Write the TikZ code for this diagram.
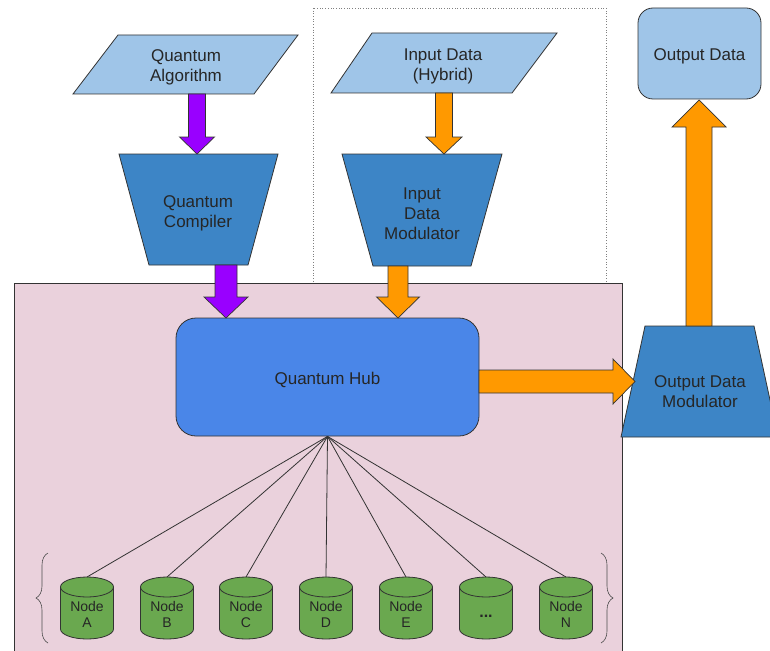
\documentclass[tikz,border=0pt]{standalone}
\usepackage{fontspec}
\setmainfont{Liberation Sans}
\usetikzlibrary{calc,decorations.pathreplacing}
\definecolor{pinkbg}{HTML}{EAD1DC}
\definecolor{lblue}{HTML}{9FC5E8}
\definecolor{tblue}{HTML}{3D85C6}
\definecolor{hblue}{HTML}{4A86E8}
\definecolor{cgreen}{HTML}{6AA84F}
\definecolor{apurple}{HTML}{9900FF}
\definecolor{aorange}{HTML}{FF9900}
\definecolor{edge}{HTML}{333333}
\newcommand\blkarrow[6]{%
  \coordinate (tmpH) at ($(#3)!#6!(#2)$);
  \draw[#1] ($(#2)!#4!90:(#3)$) -- ($(tmpH)!#4!90:(#3)$) -- ($(tmpH)!#5!90:(#3)$) -- (#3)
    -- ($(tmpH)!#5!-90:(#3)$) -- ($(tmpH)!#4!-90:(#3)$) -- ($(#2)!#4!-90:(#3)$) -- cycle;
}
\tikzset{
  shapeline/.style={draw=edge, line width=0.8pt},
  bigtext/.style={align=center, text=black!85, font=\fontsize{17}{20}\selectfont, inner sep=0pt},
  lowered/.style={yshift=-2.5pt},
  cyltext/.style={align=center, text=black!85, font=\fontsize{14}{16.5}\selectfont, inner sep=0pt},
  cylbox/.style={minimum width=53pt, minimum height=62pt, inner sep=0pt, outer sep=0pt},
  purplearrow/.style={fill=apurple, draw=edge, line width=0.7pt, line join=miter},
  orangearrow/.style={fill=aorange, draw=edge, line width=0.7pt, line join=miter},
  spoke/.style={draw=edge, line width=0.8pt},
  bracestyle/.style={draw=black!70, line width=0.6pt, decorate, decoration={brace, amplitude=12pt}}
}
\begin{document}
\begin{tikzpicture}[x=1pt, y=-1pt]
\useasboundingbox (0,0) rectangle (770,650);
% dotted group box and pink hub area
\draw[dotted, draw=black!50, line width=0.7pt] (313,8) rectangle (606,283);
\draw[fill=pinkbg, draw=edge, line width=0.8pt] (14,283) rectangle (622,670);

% Quantum Algorithm (parallelogram)
\path[shapeline, fill=lblue] (118,35) -- (298,35) -- (254,94) -- (73,94) -- cycle;
\node[bigtext, lowered] (qa) at (186,65) {Quantum\\Algorithm};
% Quantum Compiler (trapezoid)
\path[shapeline, fill=tblue] (119,154) -- (278,154) -- (248,265) -- (149,265) -- cycle;
\node[bigtext, lowered] (qc) at (198,211) {Quantum\\Compiler};
% Input Data (parallelogram)
\path[shapeline, fill=lblue] (372,33) -- (557,33) -- (512,93) -- (331,93) -- cycle;
\node[bigtext, lowered] (id) at (443,64) {Input Data\\(Hybrid)};
% Input Data Modulator
\path[shapeline, fill=tblue] (342,154) -- (502,154) -- (471,266) -- (373,266) -- cycle;
\node[bigtext, lowered] (idm) at (422,211) {Input\\Data\\Modulator};
% Output Data
\node[shapeline, fill=lblue, rounded corners=15pt, minimum width=123pt, minimum height=91pt, bigtext] (od) at (699.5,53.5) {};
\node[bigtext, lowered] (odt) at (od.center) {Output Data};
% Output Data Modulator
\path[shapeline, fill=tblue] (645,326) -- (754,326) -- (778,437) -- (621,437) -- cycle;
% Quantum Hub
\node[shapeline, fill=hblue, rounded corners=20pt, minimum width=303pt, minimum height=118pt, bigtext] (hub) at (327.5,377) {};
\node[bigtext, lowered] (hubt) at (hub.center) {Quantum Hub};

% connection points
\coordinate (qaS) at (197,94);
\coordinate (qcN) at (197,154);
\coordinate (qcS) at (226,265);
\coordinate (hubP) at (226,318);
\coordinate (idS) at (444,93);
\coordinate (idmN) at (444,154);
\coordinate (idmS) at (398,266);
\coordinate (hubO) at (398,318);
\coordinate (hubE) at (479,381.5);
\coordinate (odmW) at (635,381.5);
\coordinate (odmN) at (699,326);
\coordinate (odS) at (699,100);

% block arrows
\blkarrow{purplearrow}{qaS}{qcN}{8.5pt}{17.5pt}{17pt}
\blkarrow{purplearrow}{qcS}{hubP}{11pt}{22pt}{21pt}
\blkarrow{orangearrow}{idS}{idmN}{8.5pt}{18pt}{17pt}
\blkarrow{orangearrow}{idmS}{hubO}{10pt}{21.5pt}{21pt}
\blkarrow{orangearrow}{hubE}{odmW}{11.5pt}{22.5pt}{22pt}
\blkarrow{orangearrow}{odmN}{odS}{13pt}{27pt}{27pt}

\node[bigtext, lowered] (odm) at (700,389) {Output Data\\Modulator};

% storage nodes (cylinders)
\foreach \n/\x in {A/87,B/167,C/246,D/326,E/406,X/486,N/566}{
  \node[cylbox] (n\n) at (\x,608) {};
  \path[shapeline, fill=cgreen] ([yshift=-10pt]n\n.north west) -- ([yshift=10pt]n\n.south west)
    arc[start angle=180, end angle=360, x radius=26.5pt, y radius=10pt]
    -- ([yshift=-10pt]n\n.north east)
    arc[start angle=0, end angle=180, x radius=26.5pt, y radius=10pt] -- cycle;
  \draw[shapeline] ([yshift=-10pt]n\n.north west) arc[start angle=180, end angle=360, x radius=26.5pt, y radius=10pt];
  \draw[spoke] (hub.south) -- (n\n.north);
}
\foreach \n/\t in {A/A,B/B,C/C,D/D,E/E,N/N}{
  \node[cyltext] at ([yshift=-6.5pt]n\n.center) {Node\\\t};
}
\node[cyltext, font=\fontsize{16}{18}\selectfont\bfseries] at ([yshift=-8pt]nX.center) {...};

% braces
\draw[bracestyle] (48,643) -- (48,553);
\draw[bracestyle] (601,553) -- (601,643);
\end{tikzpicture}
\end{document}
